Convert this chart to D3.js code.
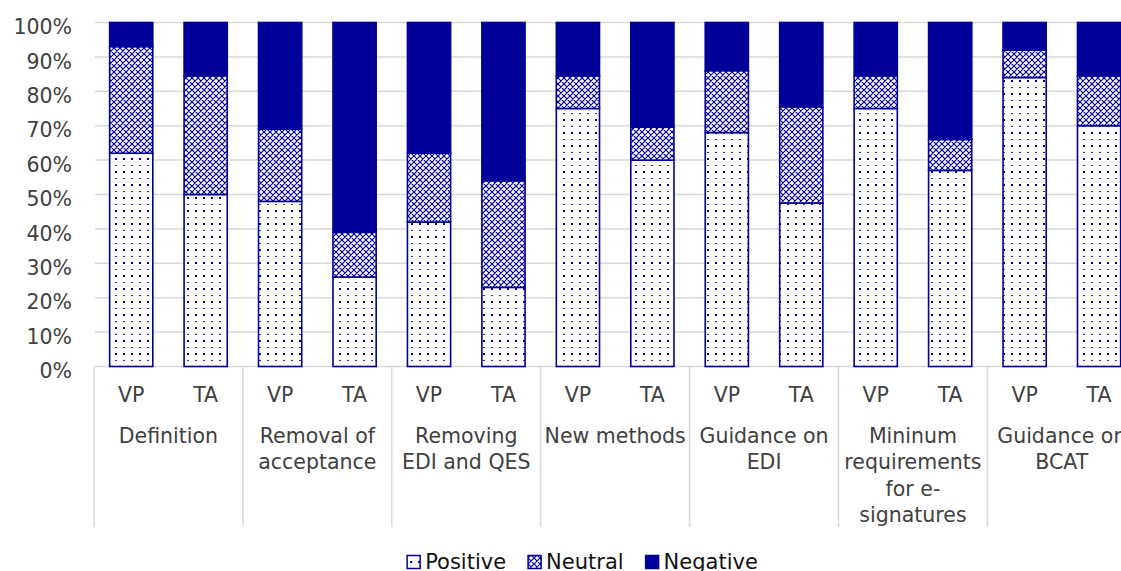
<!DOCTYPE html>
<html>
<head>
<meta charset="utf-8">
<script src="https://cdn.jsdelivr.net/npm/d3@7"></script>
<style>
  html, body { margin: 0; padding: 0; background: #fff; }
  svg { display: block; font-family: Verdana, "DejaVu Sans", sans-serif; }
</style>
</head>
<body>
<svg id="chart" width="1121" height="571"></svg>
<script>
// Survey topics (each asked to VP and TA respondents)
const categories = [
  "Definition",
  "Removal of acceptance",
  "Removing EDI and QES",
  "New methods",
  "Guidance on EDI",
  "Mininum requirements for e-signatures",
  "Guidance on BCAT"
];
// Wrapped label lines for each topic
const categoryLines = [
  ["Definition"],
  ["Removal of", "acceptance"],
  ["Removing", "EDI and QES"],
  ["New methods"],
  ["Guidance on", "EDI"],
  ["Mininum", "requirements", "for e-", "signatures"],
  ["Guidance on", "BCAT"]
];
const respondents = ["VP", "TA"];
const seriesNames = ["Positive", "Neutral", "Negative"];

// Share of answers (%), ordered topic by topic: VP then TA
const positive = [62, 50, 48, 26, 42, 23, 75, 60, 68, 47.5, 75, 57, 84, 70];
const neutral  = [31, 34.5, 21, 13, 20, 31, 9.5, 9.6, 18, 28, 9.5, 9, 8, 14.5];
const negative = [7, 15.5, 31, 61, 38, 46, 15.5, 30.4, 14, 24.5, 15.5, 34, 8, 15.5];

const yTicks = [0, 10, 20, 30, 40, 50, 60, 70, 80, 90, 100];

// ---------------------------------------------------------------------------
const NAVY = "#000099";
const GRID = "#d9d9d9";
const TEXT = "#404040";

const svg = d3.select("#chart");
const margin = { left: 94, top: 22.5, bottom: 366.5 };
const groupW = 148.9;

const rows = [];
categories.forEach((c, ci) => {
  respondents.forEach((r, ri) => {
    const i = ci * respondents.length + ri;
    rows.push({ category: c, respondent: r, Positive: positive[i], Neutral: neutral[i], Negative: negative[i] });
  });
});

const x0 = d3.scaleBand()
  .domain(categories)
  .range([margin.left, margin.left + groupW * categories.length])
  .padding(0);
const x1 = d3.scaleBand()
  .domain(respondents)
  .range([0, x0.bandwidth()])
  .paddingInner(0.42)
  .paddingOuter(0.21);
const y = d3.scaleLinear().domain([0, 100]).range([margin.bottom, margin.top]);

// Fill patterns: sparse dots (positive), diamond lattice (neutral)
const defs = svg.append("defs");
const pDots = defs.append("pattern")
  .attr("id", "pat-positive").attr("patternUnits", "userSpaceOnUse")
  .attr("width", 8).attr("height", 13);
pDots.append("rect").attr("width", 8).attr("height", 13).attr("fill", "#fff");
pDots.append("rect").attr("x", 3).attr("y", 2).attr("width", 2).attr("height", 2).attr("fill", NAVY);
pDots.append("rect").attr("x", 3).attr("y", 9).attr("width", 2).attr("height", 1).attr("fill", NAVY).attr("opacity", 0.8);

const pHatch = defs.append("pattern")
  .attr("id", "pat-neutral").attr("patternUnits", "userSpaceOnUse")
  .attr("width", 6).attr("height", 6);
pHatch.append("rect").attr("width", 6).attr("height", 6).attr("fill", "#fff");
pHatch.append("path").attr("d", "M0,0L6,6M6,0L0,6M-1,5L1,7M5,-1L7,1M-1,1L1,-1M5,7L7,5")
  .attr("stroke", NAVY).attr("stroke-width", 1.2).attr("fill", "none");

const fills = { Positive: "url(#pat-positive)", Neutral: "url(#pat-neutral)", Negative: NAVY };

// Gridlines
const xRight = x0.range()[1];
svg.append("g").selectAll("line")
  .data(yTicks)
  .join("line")
  .attr("x1", margin.left + 1).attr("x2", xRight)
  .attr("y1", d => y(d)).attr("y2", d => y(d))
  .attr("stroke", GRID).attr("stroke-width", 1.5);

// Y axis labels
const yAxis = d3.axisLeft(y).tickValues(yTicks).tickFormat(d => d + "%").tickSize(0).tickPadding(0);
svg.append("g")
  .attr("transform", "translate(72,0)")
  .call(yAxis)
  .call(g => g.select(".domain").remove())
  .call(g => g.selectAll("text")
    .attr("font-family", "Verdana, 'DejaVu Sans', sans-serif")
    .attr("font-size", 20.5).attr("fill", TEXT)
    .attr("dy", "0.42em").attr("x", 0).attr("y", 2.5));

// Stacked bars
const stack = d3.stack().keys(seriesNames);
const layers = stack(rows);
svg.append("g").selectAll("g")
  .data(layers)
  .join("g")
  .attr("fill", d => fills[d.key])
  .selectAll("rect")
  .data(d => d)
  .join("rect")
  .attr("x", d => x0(d.data.category) + x1(d.data.respondent))
  .attr("width", x1.bandwidth())
  .attr("y", d => y(d[1]))
  .attr("height", d => y(d[0]) - y(d[1]))
  .attr("stroke", NAVY).attr("stroke-width", 1.6);

// Category axis: separators
const sepBottom = 527;
svg.append("g").selectAll("line")
  .data(categories.map(c => x0(c)).concat([xRight]))
  .join("line")
  .attr("x1", d => d).attr("x2", d => d)
  .attr("y1", margin.bottom).attr("y2", sepBottom)
  .attr("stroke", GRID).attr("stroke-width", 1.5);

// Respondent labels
svg.append("g").selectAll("text")
  .data(rows)
  .join("text")
  .attr("x", d => x0(d.category) + x1(d.respondent) + x1.bandwidth() / 2)
  .attr("y", 402)
  .attr("text-anchor", "middle")
  .attr("font-size", 20.5).attr("fill", TEXT)
  .text(d => d.respondent);

// Topic labels
svg.append("g").selectAll("text")
  .data(categories)
  .join("text")
  .attr("text-anchor", "middle")
  .attr("font-size", 20.5).attr("fill", TEXT)
  .each(function (c, i) {
    const t = d3.select(this);
    categoryLines[i].forEach((line, li) => {
      t.append("tspan")
        .attr("x", x0(c) + x0.bandwidth() / 2)
        .attr("y", 443 + li * 26.3)
        .text(line);
    });
  });

// Legend
const legend = svg.append("g");
const items = legend.selectAll("g").data(seriesNames).join("g");
items.append("rect")
  .attr("width", 13).attr("height", 13)
  .attr("y", 555.5)
  .attr("fill", d => fills[d])
  .attr("stroke", NAVY).attr("stroke-width", 1.5);
items.append("text")
  .attr("x", 18).attr("y", 569)
  .attr("font-size", 21).attr("fill", "#111")
  .text(d => d);
let widths = [];
items.each(function () { widths.push(d3.select(this).select("text").node().getComputedTextLength() + 18); });
const gap = 22;
const total = d3.sum(widths) + gap * (widths.length - 1);
let cx = 582.5 - total / 2;
items.attr("transform", (d, i) => {
  const tx = cx; cx += widths[i] + gap; return `translate(${tx},0)`;
});
</script>
</body>
</html>
